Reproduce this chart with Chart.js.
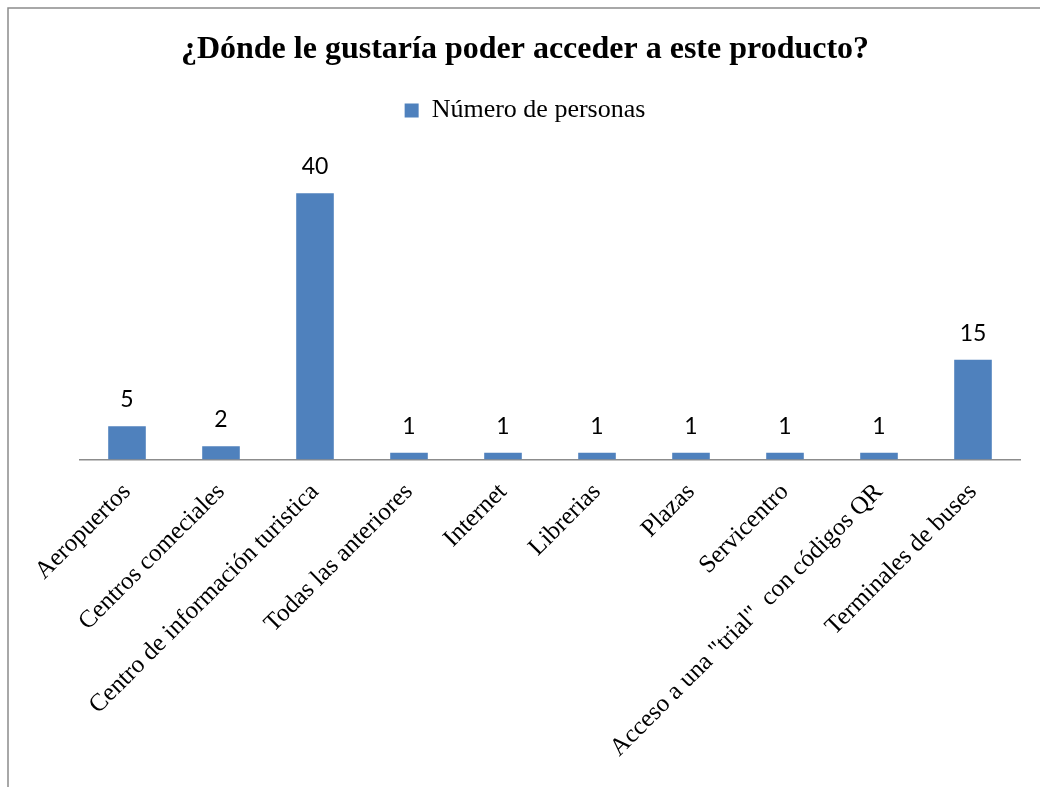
<!DOCTYPE html>
<html>
<head>
<meta charset="utf-8">
<script src="https://cdn.jsdelivr.net/npm/chart.js@4/dist/chart.umd.min.js"></script>
<style>
  html, body { margin: 0; padding: 0; background: #fff; }
  #wrap { width: 1040px; height: 787px; position: relative; }
</style>
</head>
<body>
<div id="wrap"><canvas id="chart"></canvas></div>
<script>
    const categories = [
        'Aeropuertos',
        'Centros comeciales',
        'Centro de información turistica',
        'Todas las anteriores',
        'Internet',
        'Librerias',
        'Plazas',
        'Servicentro',
        'Acceso a una "trial"  con códigos QR',
        'Terminales de buses'
    ];
    const seriesName = 'Número de personas';
    const personas = [5, 2, 40, 1, 1, 1, 1, 1, 1, 15];

    const BAR_COLOR = '#4F81BD';

    // fondo + marco gris (solo arriba e izquierda, como el original)
    const framePlugin = {
        id: 'frame',
        beforeDraw(chart) {
            const c = chart.ctx;
            c.save();
            c.fillStyle = '#fff';
            c.fillRect(0, 0, chart.width, chart.height);
            c.strokeStyle = '#8c8c8c';
            c.lineWidth = 1.5;
            c.beginPath();
            c.moveTo(8, chart.height);
            c.lineTo(8, 8);
            c.lineTo(chart.width, 8);
            c.stroke();
            c.restore();
        }
    };

    // etiquetas de valor encima de cada barra
    const valueLabels = {
        id: 'valueLabels',
        afterDatasetsDraw(chart) {
            const c = chart.ctx;
            const meta = chart.getDatasetMeta(0);
            c.save();
            c.font = '23px Lato, "Liberation Sans", sans-serif';
            c.fillStyle = '#000';
            c.textAlign = 'center';
            c.textBaseline = 'alphabetic';
            meta.data.forEach((bar, i) => {
                c.fillText(String(personas[i]), bar.x, bar.y - 19);
            });
            c.restore();
        }
    };

    const ctx = document.getElementById('chart');
    new Chart(ctx, {
        type: 'bar',
        data: {
            labels: categories,
            datasets: [{
                label: seriesName,
                data: personas,
                backgroundColor: BAR_COLOR,
                borderWidth: 0,
                categoryPercentage: 0.8,
                barPercentage: 0.5
            }]
        },
        options: {
            responsive: true,
            maintainAspectRatio: false,
            animation: false,
            layout: { padding: { left: 30, right: 20, top: 0, bottom: 6 } },
            plugins: {
                title: {
                    display: true,
                    text: '¿Dónde le gustaría poder acceder a este producto?',
                    color: '#000',
                    font: { family: '"Liberation Serif", serif', size: 32, weight: 'bold' },
                    padding: { top: 31, bottom: 18 }
                },
                legend: {
                    position: 'top',
                    labels: {
                        color: '#000',
                        boxWidth: 14,
                        boxHeight: 14,
                        font: { family: '"Liberation Serif", serif', size: 26 }
                    }
                },
                tooltip: { enabled: false }
            },
            scales: {
                x: {
                    grid: { display: false, drawTicks: false },
                    border: { display: true, color: '#8c8c8c', width: 1.5 },
                    ticks: {
                        color: '#000',
                        minRotation: 45,
                        maxRotation: 45,
                        autoSkip: false,
                        padding: 18,
                        font: { family: '"Liberation Serif", serif', size: 25 }
                    }
                },
                y: {
                    min: 0,
                    max: 49,
                    grid: { display: false, drawTicks: false },
                    border: { display: false },
                    ticks: { display: false },
                    // eje invisible: solo reserva el hueco de la izquierda
                    afterFit(scale) { scale.width = 50; }
                }
            }
        },
        plugins: [framePlugin, valueLabels]
    });
</script>
</body>
</html>
